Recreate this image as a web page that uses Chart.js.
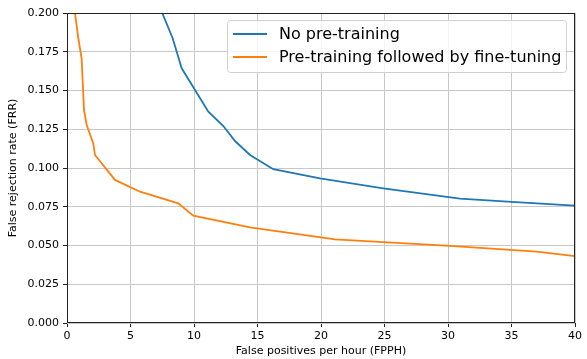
<!DOCTYPE html>
<html>
<head>
<meta charset="utf-8">
<script src="https://cdn.jsdelivr.net/npm/chart.js@4"></script>
<style>
  html, body { margin: 0; padding: 0; background: #fff; overflow: hidden; }
</style>
</head>
<body>
<canvas id="chart_frr" width="587" height="359"></canvas>
<script>
// values
var seriesNames = ['No pre-training', 'Pre-training followed by fine-tuning'];

var noPretrainFpph = [7.5, 8.32, 9.03, 10.08, 11.13, 12.31, 13.23, 14.41, 16.24, 19.92, 24.9, 30.94, 35, 40];
var noPretrainFrr = [0.2, 0.1837, 0.1643, 0.1503, 0.1363, 0.1271, 0.1174, 0.1084, 0.0992, 0.0933, 0.0869, 0.0802, 0.0782, 0.0757];

var finetuneFpph = [0.63, 0.89, 1.15, 1.34, 1.55, 2.07, 2.2, 3.78, 5.75, 8.76, 9.95, 14.41, 21.1, 30.16, 36.98, 40];
var finetuneFrr = [0.2, 0.1837, 0.1708, 0.1374, 0.1277, 0.1159, 0.1084, 0.0923, 0.0847, 0.0772, 0.0692, 0.0617, 0.054, 0.0497, 0.046, 0.0432];

var xTicks = [0, 5, 10, 15, 20, 25, 30, 35, 40];
var yTicks = [0, 0.025, 0.05, 0.075, 0.1, 0.125, 0.15, 0.175, 0.2];

var FONT = 'DejaVu Sans';

function toPoints(xs, ys) {
  let pts = [];
  for (let i = 0; i < xs.length; i++) {
    pts.push({ x: xs[i], y: ys[i] });
  }
  return pts;
}

// matplotlib style frame + legend box
var framePlugin = {
  id: 'framePlugin',
  afterDraw: function(chart) {
    var ctx = chart.ctx;
    var a = chart.chartArea;
    ctx.save();
    ctx.strokeStyle = '#222';
    ctx.lineWidth = 1;
    ctx.strokeRect(Math.round(a.left) + 0.5, Math.round(a.top) + 0.5,
                   Math.round(a.right - a.left) - 1, Math.round(a.bottom - a.top) - 1);

    // legend
    var bx = 227.5, by = 20.5, bw = 339, bh = 52;
    ctx.beginPath();
    ctx.roundRect(bx, by, bw, bh, 3);
    ctx.fillStyle = 'rgba(255,255,255,0.8)';
    ctx.fill();
    ctx.strokeStyle = '#d0d0d0';
    ctx.stroke();

    ctx.font = '16px ' + FONT;
    ctx.textBaseline = 'middle';
    ctx.textAlign = 'left';
    var rows = [34, 57];
    chart.data.datasets.forEach(function(ds, i) {
      ctx.strokeStyle = ds.borderColor;
      ctx.lineWidth = 1.8;
      ctx.beginPath();
      ctx.moveTo(233, rows[i]);
      ctx.lineTo(267, rows[i]);
      ctx.stroke();
      ctx.fillStyle = '#000';
      ctx.fillText(ds.label, 279, rows[i] + 1);
    });
    ctx.restore();
  }
};

new Chart(document.getElementById('chart_frr'), {
  type: 'line',
  data: {
    datasets: [{
      label: seriesNames[0],
      data: toPoints(noPretrainFpph, noPretrainFrr),
      borderColor: '#1f77b4',
      backgroundColor: '#1f77b4',
      borderWidth: 1.8,
      pointRadius: 0,
      tension: 0
    }, {
      label: seriesNames[1],
      data: toPoints(finetuneFpph, finetuneFrr),
      borderColor: '#ff7f0e',
      backgroundColor: '#ff7f0e',
      borderWidth: 1.8,
      pointRadius: 0,
      tension: 0
    }]
  },
  options: {
    responsive: false,
    animation: false,
    maintainAspectRatio: false,
    devicePixelRatio: 1,
    layout: { padding: { top: 13, right: 12, left: 0, bottom: 0 } },
    plugins: {
      legend: { display: false },
      tooltip: { enabled: false }
    },
    scales: {
      x: {
        type: 'linear',
        min: 0,
        max: 40,
        afterFit: function(scale) { scale.height = 36; },
        afterBuildTicks: function(scale) {
          scale.ticks = xTicks.map(function(v) { return { value: v }; });
        },
        grid: { color: '#c8c8c8', lineWidth: 1, tickLength: 4, tickColor: '#222' },
        border: { display: false },
        ticks: {
          padding: 3,
          color: '#000',
          maxRotation: 0,
          font: { family: FONT, size: 11 }
        },
        title: {
          display: true,
          text: 'False positives per hour (FPPH)',
          color: '#000',
          font: { family: FONT, size: 11 },
          padding: { top: 0, bottom: 1 }
        }
      },
      y: {
        type: 'linear',
        min: 0,
        max: 0.2,
        afterFit: function(scale) { scale.width = 67; },
        afterBuildTicks: function(scale) {
          scale.ticks = yTicks.map(function(v) { return { value: v }; });
        },
        grid: { color: '#c8c8c8', lineWidth: 1, tickLength: 4, tickColor: '#222' },
        border: { display: false },
        ticks: {
          padding: 4,
          color: '#000',
          font: { family: FONT, size: 11 },
          callback: function(v) { return v.toFixed(3); }
        },
        title: {
          display: true,
          text: 'False rejection rate (FRR)',
          color: '#000',
          font: { family: FONT, size: 11 },
          padding: { top: 7, bottom: 0 }
        }
      }
    }
  },
  plugins: [framePlugin]
});
</script>
</body>
</html>
